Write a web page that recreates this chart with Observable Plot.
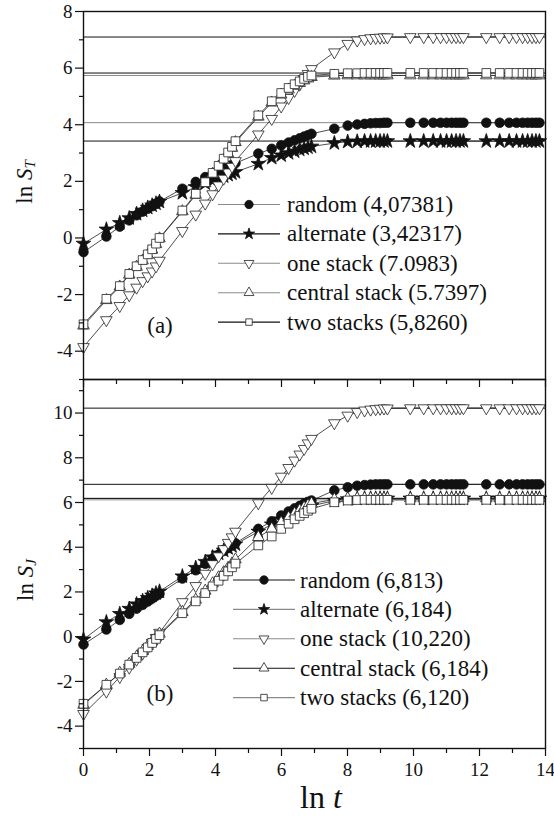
<!DOCTYPE html>
<html><head><meta charset="utf-8">
<script src="https://cdn.jsdelivr.net/npm/d3@7"></script>
<script src="https://cdn.jsdelivr.net/npm/@observablehq/plot@0.6"></script>
<style>
body{margin:0;background:#fff;}
#wrap{position:relative;width:554px;height:820px;overflow:hidden;background:#fff;font-family:"Liberation Serif","DejaVu Serif",serif;}
#wrap > div, #wrap > svg{position:absolute;left:0;}
#wrap svg text{font-family:"Liberation Serif","DejaVu Serif",serif !important;}
</style></head><body>
<div id="wrap"><div id="bot" style="top:379px"></div><div id="topp" style="top:0"></div></div>
<script>
// ---- data ----
const lnT = [0, 0.693, 1.099, 1.386, 1.609, 1.792, 1.946, 2.079, 2.197, 2.303,
  2.996, 3.401, 3.689, 3.912, 4.094, 4.248, 4.382, 4.500, 4.605,
  5.298, 5.704, 5.991, 6.215, 6.397, 6.551, 6.685, 6.802, 6.908,
  7.601, 8.006, 8.294, 8.517, 8.700, 8.854, 8.987, 9.105, 9.210,
  9.903, 10.309, 10.597, 10.820, 11.002, 11.156, 11.290, 11.408, 11.513,
  12.206, 12.612, 12.899, 13.122, 13.305, 13.459, 13.592, 13.710, 13.816];

const seriesNames = ["random", "alternate", "one stack", "central stack", "two stacks"];

// panel (a): ln S_T
const randomA = [-0.50, 0.05, 0.40, 0.62, 0.80, 0.93, 1.03, 1.12, 1.20, 1.29,
  1.74, 1.98, 2.15, 2.27, 2.37, 2.45, 2.52, 2.58, 2.64,
  2.98, 3.15, 3.27, 3.37, 3.45, 3.52, 3.58, 3.63, 3.68,
  3.86, 3.97, 4.01, 4.03, 4.05, 4.06, 4.06, 4.07, 4.07,
  4.07, 4.07, 4.07, 4.07, 4.07, 4.07, 4.07, 4.07, 4.07,
  4.07, 4.07, 4.07, 4.07, 4.07, 4.07, 4.07, 4.07, 4.07];
const alternateA = [-0.20, 0.30, 0.53, 0.70, 0.85, 0.97, 1.07, 1.15, 1.22, 1.28,
  1.59, 1.80, 1.93, 2.03, 2.11, 2.18, 2.23, 2.28, 2.33,
  2.62, 2.83, 2.92, 3.00, 3.06, 3.12, 3.16, 3.20, 3.23,
  3.35, 3.40, 3.41, 3.42, 3.42, 3.42, 3.42, 3.42, 3.42,
  3.42, 3.42, 3.42, 3.42, 3.42, 3.42, 3.42, 3.42, 3.42,
  3.42, 3.42, 3.42, 3.42, 3.42, 3.42, 3.42, 3.42, 3.42];
const oneStackA = [-3.85, -2.90, -2.40, -2.02, -1.75, -1.52, -1.35, -1.18, -1.00, -0.80,
  0.25, 0.83, 1.22, 1.55, 1.86, 2.10, 2.32, 2.52, 2.72,
  3.66, 4.21, 4.65, 4.95, 5.20, 5.42, 5.62, 5.80, 5.97,
  6.56, 6.86, 6.98, 7.03, 7.06, 7.07, 7.08, 7.09, 7.09,
  7.10, 7.10, 7.10, 7.10, 7.10, 7.10, 7.10, 7.10, 7.10,
  7.10, 7.10, 7.10, 7.10, 7.10, 7.10, 7.10, 7.10, 7.10];
const centralStackA = [-3.10, -2.20, -1.72, -1.30, -1.02, -0.80, -0.60, -0.42, -0.22, -0.02,
  0.94, 1.52, 1.93, 2.26, 2.52, 2.76, 2.98, 3.18, 3.38,
  4.28, 4.78, 5.06, 5.24, 5.37, 5.47, 5.56, 5.63, 5.68,
  5.73, 5.74, 5.74, 5.74, 5.74, 5.74, 5.74, 5.74, 5.74,
  5.74, 5.74, 5.74, 5.74, 5.74, 5.74, 5.74, 5.74, 5.74,
  5.74, 5.74, 5.74, 5.74, 5.74, 5.74, 5.74, 5.74, 5.74];
const twoStacksA = [-3.05, -2.15, -1.70, -1.27, -1.00, -0.78, -0.58, -0.40, -0.20, 0.00,
  0.97, 1.56, 1.97, 2.30, 2.55, 2.80, 3.02, 3.22, 3.42,
  4.33, 4.83, 5.12, 5.30, 5.43, 5.53, 5.62, 5.69, 5.74,
  5.80, 5.82, 5.82, 5.83, 5.83, 5.83, 5.83, 5.83, 5.83,
  5.83, 5.83, 5.83, 5.83, 5.83, 5.83, 5.83, 5.83, 5.83,
  5.83, 5.83, 5.83, 5.83, 5.83, 5.83, 5.83, 5.83, 5.83];
const limitsA = [4.07381, 3.42317, 7.0983, 5.7397, 5.8260];
const labelsA = ["random (4,07381)", "alternate (3,42317)", "one stack (7.0983)", "central stack (5.7397)", "two stacks (5,8260)"];

// panel (b): ln S_J
const randomB = [-0.35, 0.32, 0.75, 1.02, 1.25, 1.42, 1.57, 1.70, 1.82, 1.92,
  2.60, 2.97, 3.26, 3.48, 3.67, 3.83, 3.96, 4.08, 4.18,
  4.82, 5.16, 5.42, 5.60, 5.74, 5.85, 5.95, 6.03, 6.09,
  6.54, 6.68, 6.75, 6.78, 6.80, 6.81, 6.81, 6.81, 6.81,
  6.81, 6.81, 6.81, 6.81, 6.81, 6.81, 6.81, 6.81, 6.81,
  6.81, 6.81, 6.81, 6.81, 6.81, 6.81, 6.81, 6.81, 6.81];
const alternateB = [-0.12, 0.65, 1.02, 1.25, 1.45, 1.60, 1.73, 1.84, 1.94, 2.02,
  2.70, 3.08, 3.35, 3.55, 3.72, 3.85, 3.96, 4.05, 4.13,
  4.70, 5.02, 5.25, 5.42, 5.55, 5.65, 5.73, 5.80, 5.85,
  6.08, 6.15, 6.17, 6.18, 6.18, 6.18, 6.18, 6.18, 6.18,
  6.18, 6.18, 6.18, 6.18, 6.18, 6.18, 6.18, 6.18, 6.18,
  6.18, 6.18, 6.18, 6.18, 6.18, 6.18, 6.18, 6.18, 6.18];
const oneStackB = [-3.45, -2.45, -1.80, -1.38, -1.02, -0.74, -0.50, -0.27, -0.05, 0.18,
  1.55, 2.27, 2.82, 3.25, 3.60, 3.92, 4.20, 4.45, 4.70,
  5.97, 6.66, 7.16, 7.55, 7.88, 8.15, 8.40, 8.65, 8.85,
  9.55, 9.89, 10.05, 10.12, 10.16, 10.18, 10.20, 10.21, 10.21,
  10.22, 10.22, 10.22, 10.22, 10.22, 10.22, 10.22, 10.22, 10.22,
  10.22, 10.22, 10.22, 10.22, 10.22, 10.22, 10.22, 10.22, 10.22];
const centralStackB = [-3.05, -2.15, -1.62, -1.22, -0.90, -0.65, -0.42, -0.22, -0.04, 0.13,
  1.10, 1.65, 2.05, 2.38, 2.65, 2.88, 3.08, 3.27, 3.45,
  4.45, 4.82, 5.10, 5.32, 5.50, 5.65, 5.77, 5.87, 5.95,
  6.14, 6.18, 6.18, 6.18, 6.18, 6.18, 6.18, 6.18, 6.18,
  6.18, 6.18, 6.18, 6.18, 6.18, 6.18, 6.18, 6.18, 6.18,
  6.18, 6.18, 6.18, 6.18, 6.18, 6.18, 6.18, 6.18, 6.18];
const twoStacksB = [-3.00, -2.15, -1.65, -1.25, -0.95, -0.70, -0.48, -0.28, -0.10, 0.07,
  1.05, 1.58, 1.95, 2.25, 2.50, 2.72, 2.92, 3.10, 3.27,
  4.08, 4.48, 4.82, 5.05, 5.25, 5.40, 5.52, 5.63, 5.72,
  6.01, 6.09, 6.11, 6.12, 6.12, 6.12, 6.12, 6.12, 6.12,
  6.12, 6.12, 6.12, 6.12, 6.12, 6.12, 6.12, 6.12, 6.12,
  6.12, 6.12, 6.12, 6.12, 6.12, 6.12, 6.12, 6.12, 6.12];
const limitsB = [6.813, 6.184, 10.220, 6.184, 6.120];
const labelsB = ["random (6,813)", "alternate (6,184)", "one stack (10,220)", "central stack (6,184)", "two stacks (6,120)"];

const xMajor = [0, 2, 4, 6, 8, 10, 12, 14];
const xMinor = [1, 3, 5, 7, 9, 11, 13];
const yMajorA = [-4, -2, 0, 2, 4, 6, 8];
const yMinorA = [-5, -3, -1, 1, 3, 5, 7];
const yMajorB = [-4, -2, 0, 2, 4, 6, 8, 10];
const yMinorB = [-5, -3, -1, 1, 3, 5, 7, 9, 11];

// ---- styles ----
const FONT = '"Liberation Serif", "DejaVu Serif", serif';
const GREY = "#8a8a8a", BLK = "#111";
const limitColorsA = [GREY, BLK, BLK, GREY, BLK];
const limitColorsB = [BLK, GREY, BLK, BLK, GREY];
const legendColorsA = [GREY, BLK, GREY, GREY, BLK];
const legendColorsB = [BLK, GREY, GREY, BLK, GREY];
const symStyles = [
  {symbol: "circle", r: 4.8, fill: "#111", stroke: "#111", rotate: 0},
  {symbol: "star", r: 4.6, fill: "#111", stroke: "#111", rotate: 0},
  {symbol: "triangle", r: 4.3, fill: "white", stroke: "#222", rotate: 180},
  {symbol: "triangle", r: 4.3, fill: "white", stroke: "#222", rotate: 0},
  {symbol: "square", r: 4.9, fill: "white", stroke: "#222", rotate: 0}
];

function seriesMarks(valueLists) {
  const marks = [];
  valueLists.forEach((vals, k) => {
    const rows = vals.map((v, i) => ({x: lnT[i], y: v, s: seriesNames[k]}));
    marks.push(Plot.line(rows, {x: "x", y: "y", stroke: "#222", strokeWidth: 0.8}));
  });
  valueLists.forEach((vals, k) => {
    const rows = vals.map((v, i) => ({x: lnT[i], y: v, s: seriesNames[k]}));
    const st = symStyles[k];
    marks.push(Plot.dot(rows, {x: "x", y: "y", symbol: () => st.symbol, r: st.r, fill: st.fill,
      stroke: st.stroke, strokeWidth: 0.8, rotate: st.rotate}));
  });
  return marks;
}

function makePlot(opts) {
  const limRows = opts.limits.map((v, i) => ({v, c: opts.limitColors[i]}));
  return Plot.plot({
    width: 554, height: opts.height,
    marginLeft: 83, marginRight: 9, marginTop: opts.mt, marginBottom: opts.mb,
    x: {domain: [0, 14]},
    y: {domain: opts.ydomain},
    style: {background: "transparent", overflow: "visible", fontFamily: FONT, color: "#111"},
    marks: [
      Plot.ruleY(limRows, {y: "v", stroke: "c", strokeWidth: 1}),
      ...seriesMarks(opts.series),
      Plot.frame({stroke: "#111", strokeWidth: 1.4}),
      Plot.axisY({ticks: opts.yMajor, tickSize: 8, tickPadding: 3, tickFormat: d => String(d), fontSize: 19, fontFamily: FONT, label: null, strokeWidth: 1.2}),
      Plot.axisY({ticks: opts.yMinor, tickSize: 4, tickFormat: () => "", label: null, strokeWidth: 1.2}),
      Plot.axisX({ticks: xMajor, tickSize: 8, tickPadding: 6, tickFormat: opts.xLabels ? (d => String(d)) : (() => ""), fontSize: 19, fontFamily: FONT, label: null, strokeWidth: 1.2}),
      Plot.axisX({ticks: xMinor, tickSize: 5, tickFormat: () => "", label: null, strokeWidth: 1.2})
    ]
  });
}

const topPlot = makePlot({height: 390, mt: 11, mb: 11, ydomain: [-5, 8],
  series: [randomA, alternateA, oneStackA, centralStackA, twoStacksA],
  limits: limitsA, limitColors: limitColorsA, yMajor: yMajorA, yMinor: yMinorA, xLabels: false});
const botPlot = makePlot({height: 441, mt: 0, mb: 72, ydomain: [-5, 11.5],
  series: [randomB, alternateB, oneStackB, centralStackB, twoStacksB],
  limits: limitsB, limitColors: limitColorsB, yMajor: yMajorB, yMinor: yMinorB, xLabels: true});
document.getElementById("topp").appendChild(topPlot);
document.getElementById("bot").appendChild(botPlot);

// ---- overlay: legends, panel tags, axis titles ----
const ov = d3.create("svg").attr("width", 554).attr("height", 820)
  .style("position", "absolute").style("top", "0").style("left", "0")
  .style("pointer-events", "none").style("font-family", FONT);

const d3sym = {circle: d3.symbolCircle, star: d3.symbolStar, triangle: d3.symbolTriangle, square: d3.symbolSquare};
const legendSizes = [55, 40, 42, 42, 42];
function legend(labels, colors, x0, x1, xt, y0, dy) {
  labels.forEach((lab, i) => {
    const y = y0 + i * dy, xm = (x0 + x1) / 2, st = symStyles[i];
    ov.append("line").attr("x1", x0).attr("x2", x1).attr("y1", y).attr("y2", y)
      .attr("stroke", colors[i]).attr("stroke-width", 1.1);
    ov.append("path").attr("d", d3.symbol(d3sym[st.symbol], legendSizes[i])())
      .attr("transform", `translate(${xm},${y}) rotate(${st.rotate})`)
      .attr("fill", st.fill).attr("stroke", st.stroke).attr("stroke-width", 0.8);
    ov.append("text").attr("x", xt).attr("y", y).attr("dominant-baseline", "central")
      .attr("font-size", 23).attr("fill", "#111").text(lab);
  });
}
legend(labelsA, legendColorsA, 218, 280, 287, 204.5, 29.4);
legend(labelsB, legendColorsB, 233, 295, 300, 580, 29.4);

ov.append("text").attr("x", 160).attr("y", 325).attr("text-anchor", "middle").attr("dominant-baseline", "central")
  .attr("font-size", 23).attr("fill", "#111").text("(a)");
ov.append("text").attr("x", 160).attr("y", 693).attr("text-anchor", "middle").attr("dominant-baseline", "central")
  .attr("font-size", 23).attr("fill", "#111").text("(b)");

function ylabel(cx, cy, sub) {
  const t = ov.append("text").attr("x", cx).attr("y", cy).attr("text-anchor", "middle")
    .attr("dominant-baseline", "central").attr("font-size", 23).attr("fill", "#111")
    .attr("transform", `rotate(-90,${cx},${cy})`);
  t.append("tspan").text("ln ");
  t.append("tspan").attr("font-style", "italic").text("S");
  t.append("tspan").attr("font-style", "italic").attr("font-size", 15).attr("dy", 6).text(sub);
}
ylabel(24, 182, "T");
ylabel(25, 580, "J");

const xl = ov.append("text").attr("x", 321).attr("y", 797).attr("text-anchor", "middle")
  .attr("dominant-baseline", "central").attr("font-size", 32).attr("fill", "#111");
xl.append("tspan").text("ln ");
xl.append("tspan").attr("font-style", "italic").text("t");

document.getElementById("wrap").appendChild(ov.node());
</script>
</body></html>
